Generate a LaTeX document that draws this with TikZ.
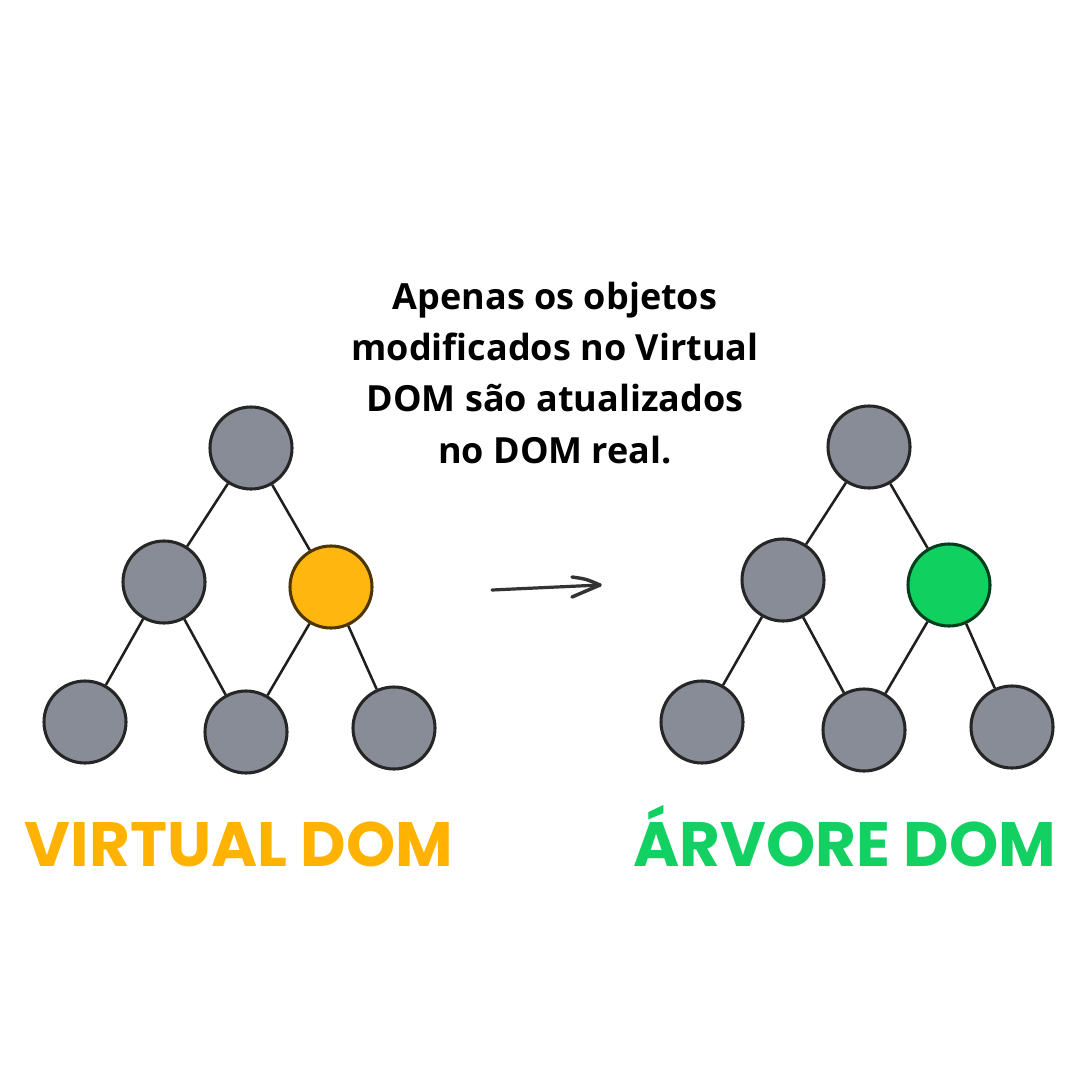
\documentclass[tikz,border=0pt]{standalone}
\usepackage{fontspec}
\setmainfont{Open Sans}
\newfontfamily\labelfont{Poppins}[UprightFont=* Bold]
\begin{document}
\begin{tikzpicture}[x=0.75pt,y=-0.75pt,
  tnode/.style={circle,draw=black!85,line width=2.3pt,minimum size=61.5pt,inner sep=0pt,fill=gray0},
  edge/.style={draw=black!88,line width=1.9pt},
  lbl/.style={font=\labelfont\fontsize{47}{47}\selectfont,inner sep=0pt,anchor=base}]
\definecolor{gray0}{HTML}{878C96}
\definecolor{orangeN}{HTML}{FFB60F}
\definecolor{greenN}{HTML}{10D060}
\definecolor{orangeT}{HTML}{FFB300}
\definecolor{greenT}{HTML}{12D162}
\useasboundingbox[fill=white] (0,0) rectangle (1080,1080);
% left tree
\node[tnode] (a1) at (251,448) {};
\node[tnode] (a2) at (164,582) {};
\node[tnode,fill=orangeN,draw=black!70!orangeN] (a3) at (331,587) {};
\node[tnode] (a4) at (85,722) {};
\node[tnode] (a5) at (246,732) {};
\node[tnode] (a6) at (394,728) {};
% right tree
\node[tnode] (b1) at (869,447) {};
\node[tnode] (b2) at (783,580) {};
\node[tnode,fill=greenN,draw=black!70!greenN] (b3) at (949,585) {};
\node[tnode] (b4) at (702,722) {};
\node[tnode] (b5) at (864,730) {};
\node[tnode] (b6) at (1012,727) {};
\foreach \p/\c in {a1/a2,a1/a3,a2/a4,a2/a5,a3/a5,a3/a6,b1/b2,b1/b3,b2/b4,b2/b5,b3/b5,b3/b6}
  \draw[edge] (\p) -- (\c);
% arrow
\coordinate (s) at (492,590);
\coordinate (e) at (600,585);
\draw[black!80,line width=2.4pt,line cap=round] (s) -- (e);
\draw[black!80,line width=2.6pt,line cap=round,line join=round] ([shift={(-28,-8)}]e) .. controls ([shift={(-14,-6)}]e) .. (e) .. controls ([shift={(-14,6)}]e) .. ([shift={(-28,12)}]e);
% text
\node[font=\bfseries\fontsize{27}{38.3}\selectfont,align=center,inner sep=0pt,anchor=base] (t) at (555,463) {Apenas os objetos\\modificados no Virtual\\DOM são atualizados\\no DOM real.};
\node[lbl,text=orangeT] (l1) at (239,866) {VIRTUAL DOM};
\node[lbl,text=greenT] (l2) at (845,866) {ÁRVORE DOM};
\end{tikzpicture}
\end{document}
